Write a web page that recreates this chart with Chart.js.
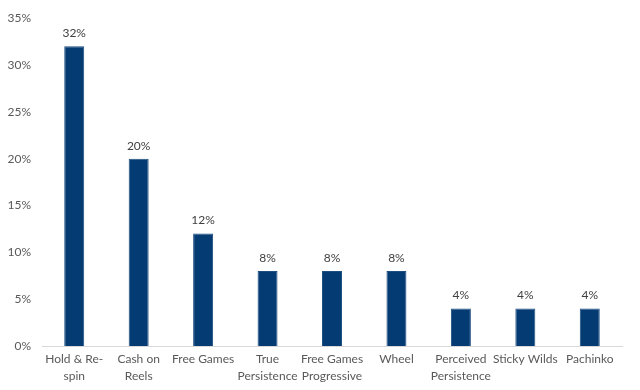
<!DOCTYPE html>
<html>
<head>
<meta charset="utf-8">
<script src="https://cdn.jsdelivr.net/npm/chart.js@4/dist/chart.umd.min.js"></script>
<style>
  html, body { margin: 0; padding: 0; background: #fff; }
  #wrap { width: 640px; height: 390px; }
</style>
</head>
<body>
<div id="wrap"><canvas id="barChart"></canvas></div>
<script>
var categories = [
  ["Hold & Re-", "spin"],
  ["Cash on", "Reels"],
  "Free Games",
  ["True", "Persistence"],
  ["Free Games", "Progressive"],
  "Wheel",
  ["Perceived", "Persistence"],
  "Sticky Wilds",
  "Pachinko"
];
var shares = [32, 20, 12, 8, 8, 8, 4, 4, 4];
var yTicks = [0, 5, 10, 15, 20, 25, 30, 35];

// labels over each bar, placed from the bar elements
var barLabels = {
  id: 'barLabels',
  afterDatasetsDraw: function(chart) {
    var ctx = chart.ctx;
    var meta = chart.getDatasetMeta(0);
    ctx.save();
    ctx.font = '12px Lato, "Open Sans", sans-serif';
    ctx.fillStyle = '#404040';
    ctx.textAlign = 'center';
    ctx.textBaseline = 'bottom';
    meta.data.forEach(function(bar, i) {
      ctx.fillText(shares[i] + '%', bar.x, bar.y - 7);
    });
    ctx.restore();
  }
};

var ctx = document.getElementById('barChart').getContext('2d');
var myChart = new Chart(ctx, {
  type: 'bar',
  data: {
    labels: categories,
    datasets: [{
      data: shares,
      backgroundColor: '#043b72',
      borderColor: '#1f4f82',
      borderWidth: 1,
      categoryPercentage: 1,
      barPercentage: 0.31
    }]
  },
  options: {
    responsive: true,
    maintainAspectRatio: false,
    animation: false,
    layout: { padding: { top: 12, right: 18, bottom: 0, left: 0 } },
    plugins: {
      legend: { display: false },
      tooltip: { enabled: false }
    },
    scales: {
      x: {
        grid: { display: false, drawTicks: false },
        border: { display: true, color: '#d9d9d9', width: 1 },
        ticks: {
          color: '#595959',
          font: { family: 'Lato, "Open Sans", sans-serif', size: 12, lineHeight: 1.4 },
          padding: 5,
          maxRotation: 0,
          autoSkip: false
        },
        afterFit: function(axis) { axis.height = 44; }
      },
      y: {
        min: 0,
        max: 35,
        afterBuildTicks: function(axis) {
          axis.ticks = yTicks.map(function(v) { return { value: v }; });
        },
        grid: { display: false, drawTicks: false },
        border: { display: false },
        ticks: {
          color: '#595959',
          font: { family: 'Lato, "Open Sans", sans-serif', size: 12 },
          padding: 11,
          callback: function(v) { return v + '%'; }
        },
        afterFit: function(axis) { axis.width = 42; }
      }
    }
  },
  plugins: [barLabels]
});
</script>
</body>
</html>
